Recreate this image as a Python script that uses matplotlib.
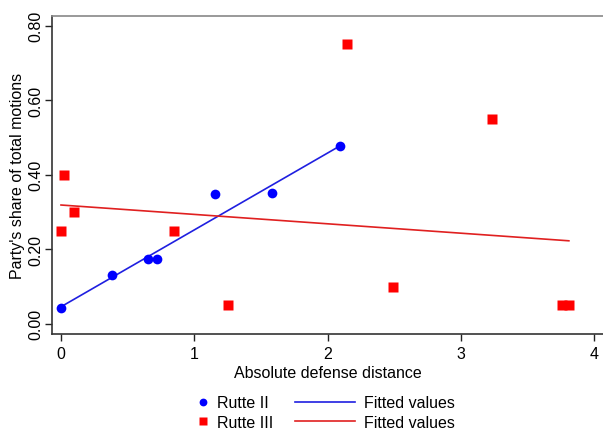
import matplotlib
matplotlib.use("Agg")
import matplotlib.pyplot as plt
from matplotlib.ticker import FormatStrFormatter

plt.rcParams['font.family'] = ['Liberation Sans', 'DejaVu Sans']

# Rutte II (blue dots)
r2_x = [0.0, 0.38, 0.65, 0.72, 1.155, 1.58, 2.09]
r2_y = [0.043, 0.13, 0.174, 0.174, 0.349, 0.35, 0.477]

# Rutte III (red squares)
r3_x = [0.0, 0.02, 0.1, 0.85, 1.25, 2.145, 2.49, 3.23, 3.76, 3.81]
r3_y = [0.25, 0.40, 0.30, 0.25, 0.05, 0.75, 0.10, 0.55, 0.05, 0.05]

# fitted lines (endpoints)
fit2_x = [0.0, 2.09]
fit2_y = [0.046, 0.477]
fit3_x = [0.0, 3.81]
fit3_y = [0.319, 0.223]

xticks = [0, 1, 2, 3, 4]
yticks = [0.0, 0.2, 0.4, 0.6, 0.8]

W, H = 603, 431
fig = plt.figure(figsize=(W/100, H/100), dpi=100)
ax = fig.add_axes([52/W, 1 - 335/H, (W - 52)/W, (335 - 17)/H])

fl2, = ax.plot(fit2_x, fit2_y, color='#1f1fe0', lw=1.2, label='Fitted values')
fl3, = ax.plot(fit3_x, fit3_y, color='#e02020', lw=1.2, label='Fitted values')
p2, = ax.plot(r2_x, r2_y, 'o', color='#0000ff', ms=7, mec='none', label='Rutte II', zorder=3)
p3, = ax.plot(r3_x, r3_y, 's', color='#ff0000', ms=6.5, mec='none', label='Rutte III', zorder=3)

ax.set_xlim(-0.0675, 4.066)
ax.set_ylim(-0.027, 0.826)
ax.set_xticks(xticks)
ax.set_yticks(yticks)
ax.yaxis.set_major_formatter(FormatStrFormatter('%.2f'))
ax.tick_params(axis='both', direction='out', length=5, width=1, labelsize=11.5, color='#222222')
ax.tick_params(axis='y', pad=1.5)
for lab in ax.get_yticklabels():
    lab.set_rotation(90)
    lab.set_va('center')

for s in ['left', 'bottom', 'top']:
    ax.spines[s].set_color('#333333')
    ax.spines[s].set_linewidth(1.2)
ax.spines['top'].set_color('#888888')
ax.spines['right'].set_visible(False)

ax.set_xlabel('Absolute defense distance', fontsize=11.5, labelpad=3)
ax.set_ylabel("Party's share of total motions", fontsize=11.5, labelpad=2)

# two legends so marker and line keys get their own widths
leg1 = fig.legend(handles=[p2, p3], loc='center left',
                  bbox_to_anchor=(195/W, 1 - 413.5/H), frameon=False,
                  fontsize=11.5, handlelength=1.0, handletextpad=0.4,
                  labelspacing=0.3, borderpad=0, borderaxespad=0,
                  markerscale=0.8)
leg2 = fig.legend(handles=[fl2, fl3], loc='center left',
                  bbox_to_anchor=(295/W, 1 - 413.5/H), frameon=False,
                  fontsize=11.5, handlelength=3.75, handletextpad=0.6,
                  labelspacing=0.3, borderpad=0, borderaxespad=0)

fig.savefig('out.png', dpi=100)
